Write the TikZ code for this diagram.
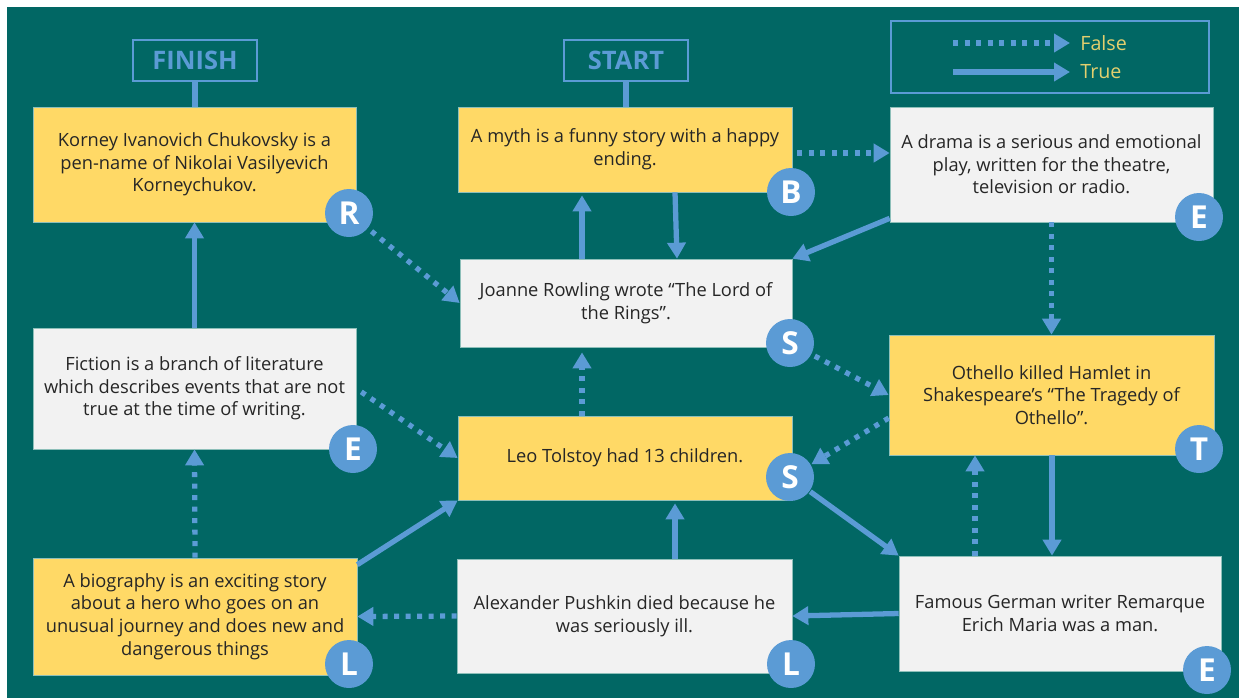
\documentclass[tikz,border=0pt]{standalone}
\usepackage{fontspec}
\setmainfont{Open Sans}
\usetikzlibrary{arrows.meta}
\definecolor{bgteal}{HTML}{016764}
\definecolor{qyellow}{HTML}{FFD966}
\definecolor{qgray}{HTML}{F2F2F2}
\definecolor{qblue}{HTML}{5B9BD5}
\definecolor{qline}{HTML}{8DBFB9}
\definecolor{qtext}{HTML}{262626}
\definecolor{qlegend}{HTML}{E2CF6E}

\begin{document}
\begin{tikzpicture}[x=0.02cm,y=-0.02cm,
  card/.style={rectangle,draw=qline,line width=0.4pt,inner sep=0pt,align=center,text=qtext,font=\fontsize{10.4}{12.9}\selectfont},
  ybox/.style={card,fill=qyellow},
  gbox/.style={card,fill=qgray},
  badge/.style={circle,fill=qblue,text=white,inner sep=0pt,minimum size=0.96cm,font=\bfseries\fontsize{18}{18}\selectfont},
  endbox/.style={rectangle,draw=qblue,line width=1.3pt,text=qblue,inner sep=0pt,minimum width=2.48cm,minimum height=0.82cm,font=\bfseries\fontsize{14.5}{15}\selectfont},
  legendtxt/.style={text=qlegend,inner sep=0pt,inner xsep=0.2cm,font=\fontsize{11.2}{12}\selectfont},
  link/.style={qblue,line width=3pt},
  yesarrow/.style={link,-{Triangle[length=0.32cm,width=0.36cm]}},
  noarrow/.style={yesarrow,dash pattern=on 0.1cm off 0.13cm},
]
% background
\fill[white] (0,0) rectangle (1239,698);
\fill[bgteal] (7,7) rectangle (1239,698);

% start / finish
\node[endbox] (finish) at (195,60.5) {FINISH};
\node[endbox] (start) at (626,60.5) {START};

% legend
\node[rectangle,draw=qblue,line width=1.1pt,minimum width=6.36cm,minimum height=1.44cm] (legend) at (1050,57) {};
\coordinate (f0) at (953,43);
\coordinate (t0) at (953,72);
\node[legendtxt,anchor=west] (flbl) at (1070,43) {False};
\node[legendtxt,anchor=west] (tlbl) at (1070,72) {True};
\draw[noarrow] (f0) -- (flbl.west);
\draw[yesarrow] (t0) -- (tlbl.west);

% statements
\node[ybox,minimum width=6.46cm,minimum height=2.30cm] (korney) at (194.5,164.5) {Korney Ivanovich Chukovsky is a\\pen-name of Nikolai Vasilyevich\\Korneychukov.};
\node[ybox,minimum width=6.68cm,minimum height=1.70cm] (myth) at (625,149.5) {A myth is a funny story with a happy\\ending.};
\node[gbox,minimum width=6.46cm,minimum height=2.30cm] (drama) at (1051.5,164.5) {A drama is a serious and emotional\\play, written for the theatre,\\television or radio.};
\node[gbox,minimum width=6.46cm,minimum height=2.42cm] (fiction) at (194.5,388.5) {Fiction is a branch of literature\\which describes events that are not\\true at the time of writing.};
\node[gbox,minimum width=6.64cm,minimum height=1.76cm] (joanne) at (626,303) {Joanne Rowling wrote “The Lord of\\the Rings”.};
\node[ybox,minimum width=6.68cm,minimum height=1.68cm] (leo) at (625,458) {Leo Tolstoy had 13 children.};
\node[ybox,minimum width=6.50cm,minimum height=2.40cm] (othello) at (1051.5,395) {Othello killed Hamlet in\\Shakespeare’s “The Tragedy of\\Othello”.};
\node[ybox,minimum width=6.48cm,minimum height=2.34cm] (bio) at (195,616.5) {A biography is an exciting story\\about a hero who goes on an\\unusual journey and does new and\\dangerous things};
\node[gbox,minimum width=6.70cm,minimum height=2.28cm] (pushkin) at (624.5,616) {Alexander Pushkin died because he\\was seriously ill.};
\node[gbox,minimum width=6.44cm,minimum height=2.30cm] (famous) at (1060,613.5) {Famous German writer Remarque\\Erich Maria was a man.};

% connectors
\draw[link] (start.south) -- (start.south |- myth.north);
\draw[link] (finish.south) -- (finish.south |- korney.north);
\draw[noarrow,shorten <=0.1cm] (myth.east |- 0,153) -- (drama.west |- 0,153);
\draw[yesarrow] ([yshift=0.08cm]drama.south west) -- (joanne.north east);
\draw[noarrow] (drama.south) -- (othello.north);
\draw[yesarrow,shorten >=0.06cm] (joanne.north -| 582,0) -- (myth.south -| 582,0);
\draw[yesarrow] (myth.south -| 675,0) -- (joanne.north -| 677,0);
\draw[noarrow,shorten <=0.12cm] (349,213) -- (joanne.west);
\draw[noarrow,shorten <=0.1cm] (790,343) -- (othello.west);
\draw[noarrow,shorten >=0.1cm] (leo.north -| 582,0) -- (joanne.south -| 582,0);
\draw[noarrow,shorten <=0.12cm] (fiction.east) -- (leo.west);
\draw[noarrow,shorten >=0.5cm] (othello.west |- 0,418) -- (790,477);
\draw[yesarrow,shorten <=0.5cm] (790,477) -- (famous.north west);
\draw[yesarrow] (othello.south -| 1052,0) -- (famous.north -| 1052,0);
\draw[noarrow] (famous.north -| 975,0) -- (othello.south -| 975,0);
\draw[yesarrow] (famous.west) -- (pushkin.east);
\draw[yesarrow,shorten >=0.06cm] (pushkin.north -| 675,0) -- (leo.south -| 675,0);
\draw[noarrow] (pushkin.west) -- (bio.east);
\draw[noarrow] (bio.north) -- (fiction.south);
\draw[yesarrow] (fiction.north) -- (korney.south);
\draw[yesarrow] ([yshift=-0.14cm]bio.north east) -- (leo.south west);

% badges
\node[badge] (rbadge) at (349,213) {R};
\node[badge] (bbadge) at (791,192) {B};
\node[badge] (ebadge1) at (1199,217) {E};
\node[badge] (ebadge2) at (353,449) {E};
\node[badge] (sbadge1) at (790,343) {S};
\node[badge] (sbadge2) at (790,477) {S};
\node[badge] (tbadge) at (1199,449) {T};
\node[badge] (lbadge1) at (349,664) {L};
\node[badge] (lbadge2) at (791,664) {L};
\node[badge] (ebadge3) at (1207,670) {E};
\end{tikzpicture}
\end{document}
